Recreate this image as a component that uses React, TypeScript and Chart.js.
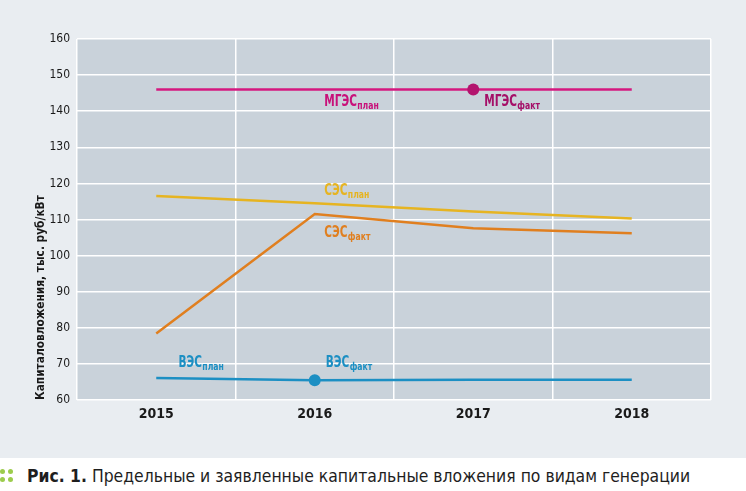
import React, { useEffect, useRef } from "react";
import { Chart, registerables } from "chart.js";

Chart.register(...registerables);

// ---- data ----
const years = ["2015", "2016", "2017", "2018"];
const mgesPlan = [146, 146, 146, 146];
const mgesFact = [null, null, 146, null];
const sesPlan = [116.5, 114.5, 112.2, 110.3];
const sesFact = [78.4, 111.5, 107.6, 106.2];
const vesPlan = [66.1, 65.5, 65.6, 65.6];
const vesFact = [null, 65.5, null, null];
const yTitle = "Капиталовложения, тыс. руб/кВт";
const caption = "Предельные и заявленные капитальные вложения по видам генерации";
const captionLead = "Рис. 1.";

// annotation label texts and their anchors (category index, value)
const labelMain = ["МГЭС", "МГЭС", "СЭС", "СЭС", "ВЭС", "ВЭС"];
const labelSub = ["план", "факт", "план", "факт", "план", "факт"];
const labelAtIndex = [1.06, 2.07, 1.06, 1.06, 0.14, 1.07];
const labelAtValue = [142.5, 142.5, 117.9, 106.3, 70.2, 70.2];

const FONT = '"DejaVu Sans Condensed", "DejaVu Sans", sans-serif';
const MAGENTA = "#d4187f";
const MAGENTA_DOT = "#b3146e";
const YELLOW = "#e6b421";
const ORANGE = "#e07f1f";
const BLUE = "#1c8fc3";
const labelColors = ["#c8117a", "#a50f68", YELLOW, ORANGE, BLUE, BLUE];

const plotBg = {
  id: "plotBg",
  beforeDraw(chart: any) {
    const { ctx, chartArea } = chart;
    ctx.save();
    ctx.fillStyle = "#c9d2da";
    ctx.fillRect(chartArea.left, chartArea.top, chartArea.right - chartArea.left, chartArea.bottom - chartArea.top);
    ctx.restore();
  },
};

const SQUEEZE = 0.78;
const seriesLabels = {
  id: "seriesLabels",
  afterDatasetsDraw(chart: any) {
    const { ctx } = chart;
    const xs = chart.scales.x;
    const ys = chart.scales.y;
    const p0 = xs.getPixelForValue(0);
    const p1 = xs.getPixelForValue(1);
    for (let i = 0; i < labelMain.length; i++) {
      const x = p0 + (p1 - p0) * labelAtIndex[i];
      const y = ys.getPixelForValue(labelAtValue[i]);
      ctx.save();
      ctx.translate(x, y);
      ctx.scale(SQUEEZE, 1);
      ctx.textBaseline = "middle";
      ctx.textAlign = "left";
      ctx.fillStyle = labelColors[i];
      ctx.font = `bold 15px ${FONT}`;
      ctx.fillText(labelMain[i], 0, 0);
      const w = ctx.measureText(labelMain[i]).width;
      ctx.font = `bold 11px ${FONT}`;
      ctx.fillText(labelSub[i], w + 0.5, 4);
      ctx.restore();
    }
  },
};

export default function App() {
  const ref = useRef<HTMLCanvasElement | null>(null);

  useEffect(() => {
    document.body.style.margin = "0";
    if (!ref.current) return;
    const lineDs = (data: (number | null)[], color: string) => ({
      data,
      borderColor: color,
      backgroundColor: color,
      borderWidth: 2.5,
      pointRadius: 0,
      tension: 0,
      fill: false,
    });
    const dotDs = (data: (number | null)[], color: string) => ({
      data,
      borderColor: color,
      backgroundColor: color,
      showLine: false,
      pointRadius: 6,
      pointBorderWidth: 0,
    });
    const chart = new Chart(ref.current, {
      type: "line",
      data: {
        labels: years,
        datasets: [
          dotDs(mgesFact, MAGENTA_DOT),
          dotDs(vesFact, BLUE),
          lineDs(mgesPlan, MAGENTA),
          lineDs(sesPlan, YELLOW),
          lineDs(sesFact, ORANGE),
          lineDs(vesPlan, BLUE),
        ] as any,
      },
      options: {
        animation: false,
        responsive: false,
        layout: { padding: { top: 39, right: 35, left: 34, bottom: 0 } },
        plugins: {
          legend: { display: false },
          tooltip: { enabled: false },
        },
        scales: {
          x: {
            offset: true,
            border: { display: false },
            grid: { offset: true, color: "#ffffff", lineWidth: 1.5, drawTicks: false },
            ticks: { color: "#1a1a1a", padding: 6, font: { family: FONT, size: 14, weight: "bold" } },
            afterFit(scale: any) {
              scale.height = 58;
            },
          },
          y: {
            min: 60,
            max: 160,
            border: { display: false },
            grid: { color: "#ffffff", lineWidth: 1.5, drawTicks: false },
            ticks: { stepSize: 10, color: "#1a1a1a", padding: 7, font: { family: FONT, size: 12 } },
            title: {
              display: true,
              text: yTitle,
              align: "start",
              color: "#1a1a1a",
              padding: 0,
              font: { family: FONT, size: 11.8, weight: "bold" },
            },
            afterFit(scale: any) {
              scale.width = 43;
            },
          },
        },
      } as any,
      plugins: [plotBg, seriesLabels],
    });
    return () => chart.destroy();
  }, []);

  return (
    <div style={{ position: "absolute", left: 0, top: 0, width: 746, height: 491, background: "#ffffff", overflow: "hidden" }}>
      <div style={{ position: "absolute", left: 0, top: 0, width: 746, height: 458, background: "#e9edf1" }}>
        <canvas ref={ref} width={746} height={458} style={{ display: "block" }} />
      </div>
      <div style={{ position: "absolute", left: 0, top: 464, width: 746, height: 26 }}>
        <div style={{ position: "absolute", left: 0, top: 5, width: 13, height: 13 }}>
          {[0, 1].map((r) =>
            [0, 1].map((c) => (
              <span
                key={`${r}-${c}`}
                style={{
                  position: "absolute",
                  left: c * 8,
                  top: r * 8,
                  width: 5,
                  height: 5,
                  borderRadius: 3,
                  background: "#9ccc4c",
                }}
              />
            ))
          )}
        </div>
        <div
          style={{
            position: "absolute",
            left: 27,
            top: 0,
            whiteSpace: "nowrap",
            fontFamily: FONT,
            fontSize: 17.4,
            lineHeight: "24px",
            color: "#1e1e1e",
          }}
        >
          <b>{captionLead}</b> {caption}
        </div>
      </div>
    </div>
  );
}
